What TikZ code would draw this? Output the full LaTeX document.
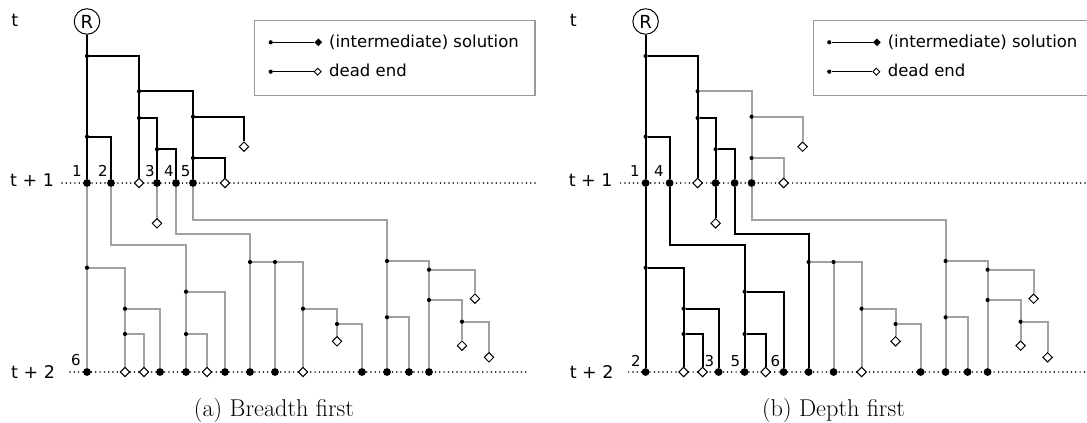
\documentclass[tikz,border=0pt]{standalone}
\usepackage{fontspec}
\newfontfamily\dejavu{DejaVu Sans}
\usetikzlibrary{shapes.geometric}

\pgfdeclarelayer{paper}
\pgfdeclarelayer{rules}
\pgfdeclarelayer{lower}
\pgfdeclarelayer{upper}
\pgfsetlayers{paper,rules,lower,upper,main}

\tikzset{
  hi/.style={draw=black, line width=1.8pt},
  lo/.style={draw=black!37, line width=1.8pt},
  root/.style={circle, draw=black, line width=1pt, minimum size=25.5pt, inner sep=0pt,
    font=\dejavu\fontsize{18}{18}\selectfont},
  bigdot/.style={circle, fill=black, inner sep=0pt, minimum size=7.8pt},
  smalldot/.style={circle, fill=black, inner sep=0pt, minimum size=4.2pt},
  dead/.style={diamond, draw=black, fill=white, line width=1pt, inner sep=0pt, minimum size=9.8pt},
  goal/.style={diamond, fill=black, inner sep=0pt, minimum size=7.8pt},
  smalldead/.style={dead, minimum size=7.2pt, line width=0.9pt},
  level/.style={draw=black, line width=1.7pt, line cap=round, dash pattern=on 0pt off 4.3pt},
  lbl/.style={font=\dejavu\fontsize{16.5}{18}\selectfont, inner sep=0pt},
  tlbl/.style={font=\dejavu\fontsize{17.5}{19}\selectfont, inner sep=0pt},
  num/.style={font=\dejavu\fontsize{15}{16}\selectfont, inner sep=0pt, anchor=base},
  legendbox/.style={draw=black!40, line width=1.3pt},
  caption/.style={font=\fontsize{24.3}{26}\selectfont, inner sep=0pt, anchor=base},
}

% all states of one search tree; #1 = name prefix
\newcommand\treepoints[1]{%
  \node[root] (#1R) at (87,21.5) {R};
  % states reached at t+1
  \node[bigdot] (#1n1) at (87,183) {};
  \node[bigdot] (#1n2) at (111,183) {};
  \node[dead]   (#1d1) at (139,183) {};
  \node[bigdot] (#1n3) at (157,183) {};
  \node[bigdot] (#1n4) at (176,183) {};
  \node[bigdot] (#1n5) at (193,183) {};
  \node[dead]   (#1d3) at (225,183) {};
  \node[dead]   (#1d2) at (244,146.7) {};
  % branchings before t+1
  \node[smalldot] (#1b1) at (87,56) {};
  \node[smalldot] (#1b2) at (87,136.7) {};
  \node[smalldot] (#1b3) at (139,91.3) {};
  \node[smalldot] (#1b4) at (139,118) {};
  \node[smalldot] (#1b5) at (157,149.3) {};
  \node[smalldot] (#1b6) at (193,116.7) {};
  \node[smalldot] (#1b7) at (193,158) {};
  % states reached at t+2
  \node[bigdot] (#1m1)  at (87,372) {};
  \node[dead]   (#1d4)  at (125,372) {};
  \node[dead]   (#1d5)  at (144,372) {};
  \node[bigdot] (#1m2)  at (160,372) {};
  \node[bigdot] (#1m3)  at (186,372) {};
  \node[dead]   (#1d7)  at (207,372) {};
  \node[bigdot] (#1m4)  at (225,372) {};
  \node[bigdot] (#1m5)  at (250,372) {};
  \node[bigdot] (#1m6)  at (275,372) {};
  \node[dead]   (#1d8)  at (303,372) {};
  \node[bigdot] (#1m7)  at (362,372) {};
  \node[bigdot] (#1m8)  at (387,372) {};
  \node[bigdot] (#1m10) at (409,372) {};
  \node[bigdot] (#1m9)  at (429,372) {};
  % dead ends between t+1 and t+2
  \node[dead] (#1d6)  at (157,223.3) {};
  \node[dead] (#1d9)  at (337,341.3) {};
  \node[dead] (#1d10) at (475,298.7) {};
  \node[dead] (#1d11) at (462,345.7) {};
  \node[dead] (#1d12) at (489,357.3) {};
  % branchings between t+1 and t+2
  \node[smalldot] (#1c1)  at (87,267.7) {};
  \node[smalldot] (#1c2)  at (125,308.7) {};
  \node[smalldot] (#1c3)  at (125,334) {};
  \node[smalldot] (#1c4)  at (186,291.7) {};
  \node[smalldot] (#1c5)  at (186,334) {};
  \node[smalldot] (#1c6)  at (250,262) {};
  \node[smalldot] (#1c7)  at (275,262) {};
  \node[smalldot] (#1c8)  at (303,308.7) {};
  \node[smalldot] (#1c9)  at (337,324) {};
  \node[smalldot] (#1c10) at (387,261) {};
  \node[smalldot] (#1c11) at (387,317.3) {};
  \node[smalldot] (#1c12) at (429,269.7) {};
  \node[smalldot] (#1c13) at (429,300) {};
  \node[smalldot] (#1c14) at (462,321.7) {};
  % corners of the long links
  \coordinate (#1k2) at (111,244.7);
  \coordinate (#1k4) at (176,234);
  \coordinate (#1k5) at (193,220);
}

% links before t+1 that lead to the first states
\newcommand\edgesA[2]{%
  \draw[#2] (#1R) -- (#1n1) (#1b1) -| (#1d1) (#1b4) -| (#1n3)
            (#1b5) -| (#1n4) (#1b2) -| (#1n2);}
% links before t+1 on the right-hand side
\newcommand\edgesB[2]{%
  \draw[#2] (#1b3) -| (#1n5) (#1b6) -| (#1d2) (#1b7) -| (#1d3);}
% links after t+1 below the first four states
\newcommand\edgesC[2]{%
  \draw[#2] (#1n1) -- (#1m1) (#1c1) -| (#1d4) (#1c2) -| (#1m2) (#1c3) -| (#1d5)
            (#1n3) -- (#1d6) (#1n2) -- (#1k2) -| (#1m3) (#1c4) -| (#1m4)
            (#1c5) -| (#1d7) (#1n4) -- (#1k4) -| (#1m5);}
% remaining links after t+1
\newcommand\edgesD[2]{%
  \draw[#2] (#1c6) -| (#1m6) (#1c7) -| (#1d8) (#1c8) -| (#1d9) (#1c9) -| (#1m7)
            (#1n5) -- (#1k5) -| (#1m8) (#1c10) -| (#1m9) (#1c11) -| (#1m10)
            (#1c12) -| (#1d10) (#1c13) -| (#1d11) (#1c14) -| (#1d12);}

% legend; #1 = name prefix
\newcommand\legendrows[1]{%
  \node[smalldot] (#1ls1) at (270.7,42.3) {};
  \node[goal]     (#1lg)  at (318.3,42.3) {};
  \draw[hi, line width=1.5pt] (#1ls1) -- (#1lg);
  \node[lbl, anchor=base west] (#1lt1) at (329,47.5) {(intermediate) solution};
  \node[smalldot]  (#1ls2) at (270.7,71.7) {};
  \node[smalldead] (#1ld)  at (317.7,71.7) {};
  \draw[hi, line width=1.5pt] (#1ls2) -- (#1ld);
  \node[lbl, anchor=base west] (#1lt2) at (329,76.5) {dead end};
}

\begin{document}
\begin{tikzpicture}[x=1pt,y=-1pt]
\useasboundingbox (0,0) rectangle (1087,423);
\begin{pgfonlayer}{paper}
  \fill[white] (0,0) rectangle (1087,423);
\end{pgfonlayer}

% (a) breadth first
\begin{scope}
  \treepoints{a}
  \begin{pgfonlayer}{upper}\edgesA{a}{hi}\edgesB{a}{hi}\end{pgfonlayer}
  \begin{pgfonlayer}{lower}\edgesC{a}{lo}\edgesD{a}{lo}\end{pgfonlayer}
  \begin{pgfonlayer}{rules}
    \draw[level] (62,183) -- (537,183);
    \draw[level] (70,372) -- (526,372);
  \end{pgfonlayer}
  \node[tlbl, anchor=base] (at0) at (14.8,26.7) {t};
  \node[tlbl, anchor=base west] (at1) at (10,186.5) {t + 1};
  \node[tlbl, anchor=base west] (at2) at (11,378.5) {t + 2};
  \node[num] (aq1) at (77,176.7) {1};
  \node[num] (aq2) at (103,176.7) {2};
  \node[num] (aq3) at (150,176.7) {3};
  \node[num] (aq4) at (169,176.7) {4};
  \node[num] (aq5) at (185.7,176.7) {5};
  \node[num] (aq6) at (76,365) {6};
  \draw[legendbox] (254.7,20.7) rectangle (535,95.7);
  \legendrows{a}
  \node[caption] (acap) at (274,416.5) {(a) Breadth first};
\end{scope}

% (b) depth first
\begin{scope}[xshift=558.6pt]
  \treepoints{b}
  \begin{pgfonlayer}{upper}\edgesA{b}{hi}\edgesC{b}{hi}\end{pgfonlayer}
  \begin{pgfonlayer}{lower}\edgesB{b}{lo}\edgesD{b}{lo}\end{pgfonlayer}
  \begin{pgfonlayer}{rules}
    \draw[level] (62,183) -- (528.4,183);
    \draw[level] (70,372) -- (526,372);
  \end{pgfonlayer}
  \node[tlbl, anchor=base] (bt0) at (14.8,26.7) {t};
  \node[tlbl, anchor=base west] (bt1) at (10,186.5) {t + 1};
  \node[tlbl, anchor=base west] (bt2) at (11,378.5) {t + 2};
  \node[num] (bq1) at (76.4,176) {1};
  \node[num] (bq4) at (100.4,176) {4};
  \node[num] (bq2) at (77.4,366.7) {2};
  \node[num] (bq3) at (150.9,366.7) {3};
  \node[num] (bq5) at (176.9,366.7) {5};
  \node[num] (bq6) at (216.9,366.7) {6};
  \begin{scope}
    \clip (250,0) rectangle (528.4,120);
    \draw[legendbox] (254.7,20.7) rectangle (535,95.7);
  \end{scope}
  \legendrows{b}
  \node[caption] (bcap) at (274.9,416.5) {(b) Depth first};
\end{scope}
\end{tikzpicture}
\end{document}
